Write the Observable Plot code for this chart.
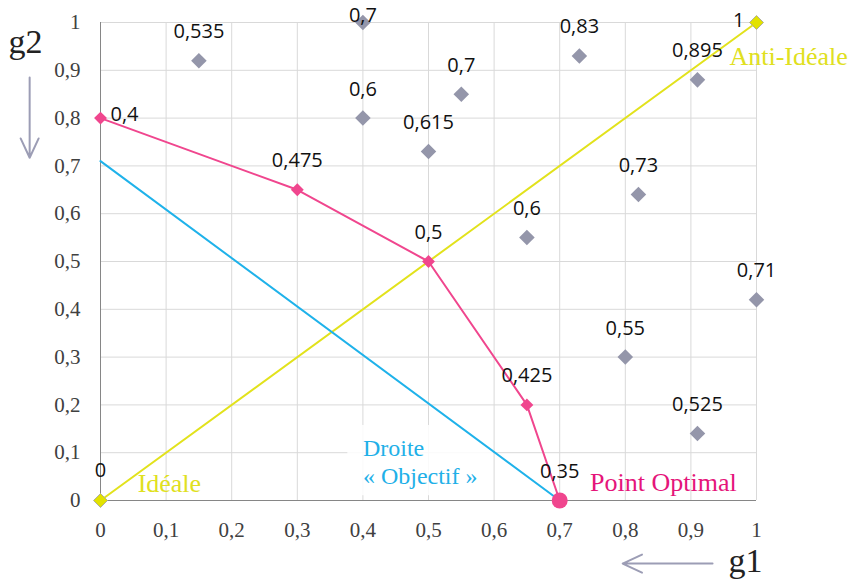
<!DOCTYPE html>
<html><head><meta charset="utf-8">
<script src="https://cdn.jsdelivr.net/npm/d3@7"></script>
<script src="https://cdn.jsdelivr.net/npm/@observablehq/plot@0.6"></script>
<style>body{margin:0;background:#fff}</style>
</head><body><div id="chart"></div>
<script>
// Axis ticks
const tickValues = [0, 0.1, 0.2, 0.3, 0.4, 0.5, 0.6, 0.7, 0.8, 0.9, 1];

// Dominated alternatives (grey diamonds)
const altG1 = [0.15, 0.4, 0.4, 0.5, 0.55, 0.73, 0.91, 0.82, 0.65, 1.0, 0.8, 0.91];
const altG2 = [0.92, 1.0, 0.8, 0.73, 0.85, 0.93, 0.88, 0.64, 0.55, 0.42, 0.30, 0.14];
const altScore = [0.535, 0.7, 0.6, 0.615, 0.7, 0.83, 0.895, 0.73, 0.6, 0.71, 0.55, 0.525];

// Pareto front (pink)
const frontG1 = [0, 0.3, 0.5, 0.65, 0.7];
const frontG2 = [0.8, 0.65, 0.5, 0.2, 0];
const frontScore = [0.4, 0.475, 0.5, 0.425, 0.35];

// Ideal / anti-ideal (yellow)
const idealG1 = [0, 1];
const idealG2 = [0, 1];
const idealScore = [0, 1];

// Objective line (blue)
const objG1 = [0, 0.7];
const objG2 = [0.71, 0];

// Annotations
const notes = [
  {text: "Idéale", x: 0.105, y: 0.036, color: "#e0e020"},
  {text: "Anti-Idéale", x: 1.049, y: 0.929, color: "#e0e020"},
  {text: "Point Optimal", x: 0.858, y: 0.038, color: "#e5157a"}
];
const objNote = [{text: "Droite\n« Objectif »", x: 0.40, y: 0.082}];
const objNoteBox = [{x1: 0.377, x2: 0.599, y1: 0.01, y2: 0.157}];
const axisArrows = [
  {x1: -0.108, y1: 0.885, x2: -0.108, y2: 0.717},
  {x1: 0.933, y1: -0.132, x2: 0.796, y2: -0.132}
];

const fmt = d => String(+d.toFixed(3)).replace(".", ",");

const alts = altG1.map((x, i) => ({x, y: altG2[i], s: altScore[i]}));
const front = frontG1.map((x, i) => ({x, y: frontG2[i], s: frontScore[i]}));
const ideal = idealG1.map((x, i) => ({x, y: idealG2[i], s: idealScore[i]}));
const obj = objG1.map((x, i) => ({x, y: objG2[i]}));

const serif = "Liberation Serif";
const labelFill = "#111";

const chart = Plot.plot({
  width: 851, height: 581,
  marginLeft: 100, marginRight: 95, marginTop: 22, marginBottom: 81,
  x: {domain: [0, 1]},
  y: {domain: [0, 1]},
  style: {fontFamily: "Open Sans", fontSize: "20px", background: "#fff", overflow: "visible"},
  marks: [
    Plot.gridX(tickValues, {stroke: "#d9d9d9", strokeOpacity: 1}),
    Plot.gridY(tickValues, {stroke: "#d9d9d9", strokeOpacity: 1}),
    Plot.rect(objNoteBox, {x1: "x1", x2: "x2", y1: "y1", y2: "y2", fill: "#fff", fillOpacity: 0.85}),
    Plot.ruleX([0], {stroke: "#868686"}),
    Plot.ruleY([0], {stroke: "#868686"}),
    Plot.axisX(tickValues, {tickSize: 0, tickPadding: 22, tickFormat: fmt, fontFamily: serif, fontSize: 21, fill: "#404040", label: null}),
    Plot.axisY(tickValues, {tickSize: 0, tickPadding: 20, tickFormat: fmt, fontFamily: serif, fontSize: 21, fill: "#404040", label: null}),
    // lines
    Plot.line(ideal, {x: "x", y: "y", stroke: "#e2e21c", strokeWidth: 2}),
    Plot.line(obj, {x: "x", y: "y", stroke: "#1fb2ea", strokeWidth: 2}),
    Plot.line(front, {x: "x", y: "y", stroke: "#f0468e", strokeWidth: 2}),
    // points
    Plot.dot(alts, {x: "x", y: "y", symbol: "diamond2", r: 7, fill: "#9496aa", stroke: "none"}),
    Plot.dot(front.slice(0, 4), {x: "x", y: "y", symbol: "diamond2", r: 5.8, fill: "#f0468e", stroke: "none"}),
    Plot.dot(front.slice(4), {x: "x", y: "y", r: 8, fill: "#f0468e", stroke: "none"}),
    Plot.dot(ideal, {x: "x", y: "y", symbol: "diamond2", r: 6.3, fill: "#e2e200", stroke: "#b0b09a", strokeWidth: 1}),
    // value labels
    Plot.text(alts.filter(d => d.y < 0.99), {x: "x", y: "y", text: d => fmt(d.s), dy: -29, fill: labelFill}),
    Plot.text(alts.filter(d => d.y >= 0.99), {x: "x", y: "y", text: d => fmt(d.s), dy: -7, fill: labelFill}),
    Plot.text(front.slice(0, 1), {x: "x", y: "y", text: d => fmt(d.s), dx: 10, dy: -4, textAnchor: "start", fill: labelFill}),
    Plot.text(front.slice(1), {x: "x", y: "y", text: d => fmt(d.s), dy: -29, fill: labelFill}),
    Plot.text(ideal.slice(0, 1), {x: "x", y: "y", text: d => fmt(d.s), dy: -30, fill: labelFill}),
    Plot.text(ideal.slice(1), {x: "x", y: "y", text: d => fmt(d.s), dx: -12, dy: -2, textAnchor: "end", fill: labelFill}),
    // annotations
    Plot.text(notes, {x: "x", y: "y", text: "text", fill: d => d.color, fontFamily: serif, fontSize: 26}),
    Plot.text(objNote, {x: "x", y: "y", text: "text", fill: "#1fb0e8", fontFamily: serif, fontSize: 24, textAnchor: "start", lineHeight: 1.15}),
    // axis titles and arrows
    Plot.arrow(axisArrows, {x1: "x1", y1: "y1", x2: "x2", y2: "y2", stroke: "#9c9db5", strokeWidth: 2, headLength: 16, headAngle: 50}),
    Plot.text(["g2"], {frameAnchor: "top-left", text: d => d, dx: -92, dy: 6, textAnchor: "start", fontFamily: serif, fontSize: 34, fill: "#222"}),
    Plot.text(["g1"], {frameAnchor: "bottom-right", text: d => d, dx: -28, dy: 71, textAnchor: "start", fontFamily: serif, fontSize: 34, fill: "#222"})
  ]
});
document.getElementById("chart").append(chart);
</script>
</body></html>
